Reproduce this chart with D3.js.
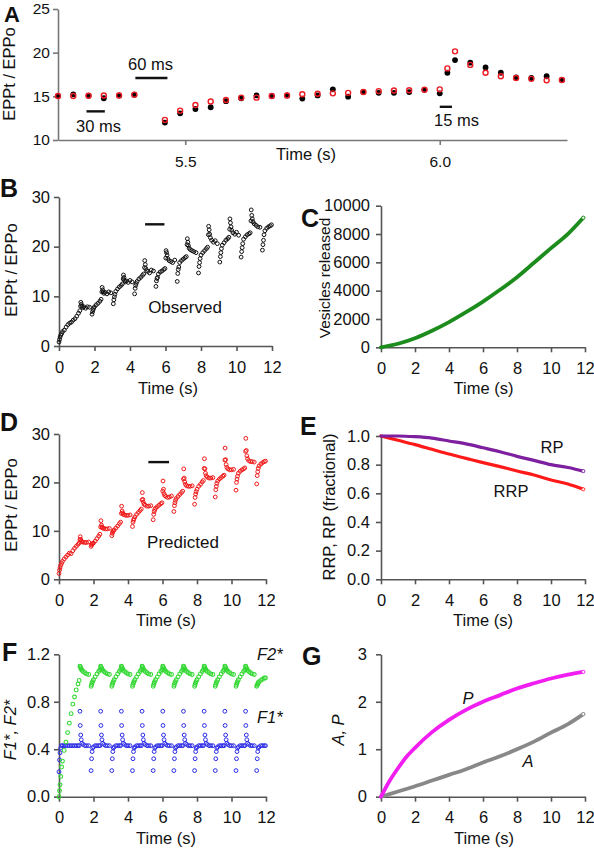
<!DOCTYPE html>
<html><head><meta charset="utf-8">
<script src="https://cdn.jsdelivr.net/npm/d3@7"></script>
<style>
body{margin:0;background:#fff;}
svg{display:block;font-family:"Liberation Sans",Arial,Helvetica,sans-serif;}
</style></head><body>
<svg id="fig" width="594" height="852"></svg>
<script>
// ---------- Panel A data ----------
const timesA = [5.25,5.28,5.31,5.34,5.37,5.40,5.46,5.49,5.52,5.55,5.58,5.61,5.64,5.67,5.70,5.73,5.76,5.79,5.82,5.85,5.88,5.91,5.94,5.97,6.00,6.015,6.03,6.06,6.09,6.12,6.15,6.18,6.21,6.24];
const obsA  = [15.04,15.23,15.07,14.78,15.1,15.19,12.0,13.06,13.55,13.75,14.45,14.78,15.1,15.04,15.1,14.74,15.1,15.8,14.96,15.5,15.4,15.4,15.49,15.75,15.34,17.7,19.15,18.85,18.3,17.7,17.17,17.1,17.3,16.87];
const predA = [15.04,15.04,15.07,15.1,15.1,15.19,12.3,13.36,14.0,14.4,14.58,14.85,14.85,15.04,15.1,15.23,15.3,15.34,15.4,15.5,15.6,15.67,15.7,15.75,15.8,18.2,20.15,18.6,17.7,17.3,17.1,17.0,16.83,16.87];
const ticksAx = [5.5, 6.0];
const ticksAy = [10, 15, 20, 25];

// ---------- Stimulus times shared by B, D, F ----------
const stimT = [0,0.03,0.06,0.1,0.15,0.2,0.3,0.4,0.5,0.6,0.7,0.8,0.9,1.0,1.1,1.17,
1.215,1.23,1.26,1.29,1.33,1.4,1.5,1.6,1.72,1.86,1.89,1.92,1.95,2.0,2.1,2.2,2.3,2.37,
2.415,2.43,2.46,2.49,2.53,2.6,2.7,2.8,2.92,3.06,3.09,3.12,3.15,3.2,3.3,3.4,3.5,3.57,
3.615,3.63,3.66,3.69,3.73,3.8,3.9,4.0,4.12,4.26,4.29,4.32,4.35,4.4,4.5,4.6,4.7,4.77,
4.815,4.83,4.86,4.89,4.93,5.0,5.1,5.2,5.32,5.46,5.49,5.52,5.55,5.6,5.7,5.8,5.9,5.97,
6.015,6.03,6.06,6.09,6.13,6.2,6.3,6.4,6.52,6.66,6.69,6.72,6.75,6.8,6.9,7.0,7.1,7.17,
7.215,7.23,7.26,7.29,7.33,7.4,7.5,7.6,7.72,7.86,7.89,7.92,7.95,8.0,8.1,8.2,8.3,8.37,
8.415,8.43,8.46,8.49,8.53,8.6,8.7,8.8,8.92,9.06,9.09,9.12,9.15,9.2,9.3,9.4,9.5,9.57,
9.615,9.63,9.66,9.69,9.73,9.8,9.9,10.0,10.12,10.26,10.29,10.32,10.35,10.4,10.5,10.6,10.7,10.77,
10.815,10.83,10.86,10.89,10.93,11.0,11.1,11.2,11.32,11.46,11.49,11.52,11.55,11.6,11.7,11.8,11.9,11.97];

// B: observed EPPt/EPPo
const observed = [0.8,1.3,1.8,2.2,2.5,2.9,3.2,3.8,4.3,4.6,4.8,5.2,5.5,6.0,6.6,7.1,
8.0,8.8,8.4,8.0,7.7,7.9,7.6,7.9,7.8,6.4,6.9,7.3,7.6,7.9,8.3,8.6,9.0,9.4,
10.9,11.8,11.3,10.9,10.6,10.8,10.5,10.9,10.7,8.5,9.3,9.9,10.4,11.0,11.5,11.9,12.2,12.5,
13.5,14.3,13.8,13.2,12.9,13.1,12.8,13.2,12.9,10.5,11.6,12.2,12.6,13.0,13.5,13.8,14.2,14.5,
15.8,17.2,16.4,15.6,15.2,15.0,14.7,15.3,15.1,12.0,13.1,13.6,13.8,14.5,14.9,15.1,15.4,15.6,
17.7,19.2,18.8,18.3,17.6,17.2,17.0,16.8,17.3,13.0,14.6,15.4,15.9,16.8,17.2,17.5,17.8,18.0,
20.4,21.6,20.9,20.2,19.7,19.4,19.2,19.0,18.8,14.7,16.0,16.8,17.6,18.3,18.8,19.2,19.6,19.9,
22.4,24.1,23.4,22.5,21.8,21.3,20.9,21.2,20.6,16.9,18.0,18.8,19.6,20.3,20.8,21.3,21.6,21.9,
23.5,25.6,24.8,24.0,23.3,22.8,22.5,22.9,22.3,17.9,19.0,19.8,20.6,21.5,22.0,22.4,22.6,22.8,
25.2,27.4,26.3,25.6,25.0,24.6,24.3,24.0,23.9,19.3,20.4,21.3,22.4,23.2,23.7,24.0,24.2,24.4];

// D: predicted EPPt/EPPo
const predicted = [1.2,1.9,2.4,2.9,3.3,3.7,4.2,4.6,5.0,5.4,5.3,5.9,6.4,6.8,7.2,7.5,
8.2,8.8,8.2,7.9,7.75,7.65,7.6,7.6,7.7,6.8,7.1,7.25,7.4,7.5,7.9,8.4,8.9,9.3,
10.8,12.1,11.2,10.8,10.6,10.5,10.4,10.4,10.5,9.0,9.5,9.8,10.0,10.2,10.6,11.0,11.5,11.8,
13.6,15.1,14.1,13.7,13.4,13.3,13.2,13.2,13.3,10.9,11.8,12.2,12.5,12.9,13.4,13.8,14.2,14.5,
16.4,17.9,16.5,15.9,15.5,15.3,15.1,15.1,15.2,12.3,13.4,14.0,14.4,14.7,15.0,15.3,15.6,15.8,
18.2,20.3,18.6,17.7,17.3,17.1,16.9,17.0,17.2,14.0,15.2,15.8,16.3,16.7,17.1,17.5,17.9,18.2,
20.7,22.8,20.9,20.1,19.6,19.3,19.2,19.2,19.3,15.5,16.9,17.6,18.1,18.6,19.2,19.6,20.1,20.4,
22.9,24.9,22.8,21.9,21.4,21.1,20.9,20.9,21.0,17.0,18.5,19.2,19.8,20.3,20.7,21.0,21.3,21.5,
24.6,27.1,24.7,23.7,23.1,22.8,22.6,22.6,22.7,18.4,20.0,20.7,21.3,21.9,22.3,22.6,22.8,23.0,
26.4,29.1,26.6,25.5,24.9,24.5,24.3,24.3,24.2,19.7,21.4,22.2,22.9,23.4,23.8,24.1,24.3,24.4];

// F: facilitation factors
const F1star = [0.21,0.31,0.37,0.41,0.43,0.43,0.43,0.43,0.43,0.43,0.43,0.43,0.43,0.43,0.43,0.43,
0.72,0.60,0.52,0.48,0.45,0.44,0.43,0.43,0.43,0.22,0.32,0.38,0.41,0.42,0.43,0.43,0.43,0.43,
0.72,0.60,0.52,0.48,0.45,0.44,0.43,0.43,0.43,0.22,0.32,0.38,0.41,0.42,0.43,0.43,0.43,0.43,
0.72,0.60,0.52,0.48,0.45,0.44,0.43,0.43,0.43,0.22,0.32,0.38,0.41,0.42,0.43,0.43,0.43,0.43,
0.72,0.60,0.52,0.48,0.45,0.44,0.43,0.43,0.43,0.22,0.32,0.38,0.41,0.42,0.43,0.43,0.43,0.43,
0.72,0.60,0.52,0.48,0.45,0.44,0.43,0.43,0.43,0.22,0.32,0.38,0.41,0.42,0.43,0.43,0.43,0.43,
0.72,0.60,0.52,0.48,0.45,0.44,0.43,0.43,0.43,0.22,0.32,0.38,0.41,0.42,0.43,0.43,0.43,0.43,
0.72,0.60,0.52,0.48,0.45,0.44,0.43,0.43,0.43,0.22,0.32,0.38,0.41,0.42,0.43,0.43,0.43,0.43,
0.72,0.60,0.52,0.48,0.45,0.44,0.43,0.43,0.43,0.22,0.32,0.38,0.41,0.42,0.43,0.43,0.43,0.43,
0.72,0.60,0.52,0.48,0.45,0.44,0.43,0.43,0.43,0.22,0.32,0.38,0.41,0.42,0.43,0.43,0.43,0.43];
const F2star = [0,0.05,0.1,0.17,0.25,0.3,0.39,0.46,0.54,0.62,0.7,0.78,0.84,0.9,0.95,0.98,
1.10,1.095,1.085,1.075,1.065,1.055,1.045,1.035,1.03,0.93,0.945,0.96,0.97,0.985,1.01,1.035,1.055,1.07,
1.10,1.095,1.085,1.075,1.065,1.055,1.045,1.035,1.03,0.93,0.945,0.96,0.97,0.985,1.01,1.035,1.055,1.07,
1.10,1.095,1.085,1.075,1.065,1.055,1.045,1.035,1.03,0.93,0.945,0.96,0.97,0.985,1.01,1.035,1.055,1.07,
1.10,1.095,1.085,1.075,1.065,1.055,1.045,1.035,1.03,0.93,0.945,0.96,0.97,0.985,1.01,1.035,1.055,1.07,
1.10,1.095,1.085,1.075,1.065,1.055,1.045,1.035,1.03,0.93,0.945,0.96,0.97,0.985,1.01,1.035,1.055,1.07,
1.10,1.095,1.085,1.075,1.065,1.055,1.045,1.035,1.03,0.93,0.945,0.96,0.97,0.985,1.01,1.035,1.055,1.07,
1.10,1.095,1.085,1.075,1.065,1.055,1.045,1.035,1.03,0.93,0.945,0.96,0.97,0.985,1.01,1.035,1.055,1.07,
1.10,1.095,1.085,1.075,1.065,1.055,1.045,1.035,1.03,0.93,0.945,0.96,0.97,0.985,1.01,1.035,1.055,1.07,
1.10,1.095,1.085,1.075,1.065,1.055,1.045,1.035,1.03,0.93,0.94,0.95,0.96,0.97,0.98,0.99,1.0,1.0];

// C: vesicles released
const tC = [0,1,2,3,4,5,6,7,8,9,10,11,11.9];
const vesicles = [0,250,640,1170,1780,2480,3230,4060,4950,5970,7000,8010,9150];

// E: pool sizes
const tE = [0,1,2,3,4,5,6,7,8,9,10,11,11.9];
const RP  = [1.0,1.0,0.995,0.985,0.965,0.945,0.918,0.89,0.858,0.83,0.80,0.78,0.755];
const RRP = [1.0,0.97,0.94,0.907,0.874,0.844,0.814,0.786,0.756,0.728,0.693,0.665,0.628];

// G: A and P
const tP = [0,0.5,1,1.5,2,3,4,5,6,7,8,9,10,11,11.9];
const Pval = [0,0.33,0.6,0.84,1.03,1.36,1.62,1.83,2.0,2.14,2.28,2.39,2.49,2.57,2.63];
const tA = [0,1,2,3,4,5,6,7,8,9,10,11,11.9];
const Aval = [0,0.11,0.22,0.34,0.46,0.58,0.72,0.85,1.0,1.16,1.35,1.53,1.74];

const timeTicks = [0,2,4,6,8,10,12];

// ---------- drawing ----------
const svg = d3.select("#fig");
const FS = 16.5;
const FONT = '"Liberation Sans",Arial,Helvetica,sans-serif';

function drawAxes(x, y, o) {
  const col = o.col || "#555";
  const fs = o.fs || FS;
  const g = svg.append("g");
  const ax = g.append("g").attr("transform", `translate(0,${y.range()[0]})`)
    .call(d3.axisBottom(x).tickValues(o.xTicks).tickFormat(o.xFmt).tickSize(5).tickSizeOuter(0).tickPadding(o.xPad ?? 10));
  const ay = g.append("g").attr("transform", `translate(${x.range()[0]},0)`)
    .call(d3.axisLeft(y).tickValues(o.yTicks).tickFormat(o.yFmt).tickSize(5).tickSizeOuter(0).tickPadding(o.yPad ?? 4));
  [ax, ay].forEach(a => {
    a.attr("font-size", null).attr("font-family", null);
    a.select(".domain").attr("stroke", col).attr("stroke-width", 1.6);
    a.selectAll(".tick line").attr("stroke", col).attr("stroke-width", 1.6);
    a.selectAll(".tick text").attr("fill", "#111").style("font-size", fs + "px").style("font-family", FONT);
  });
}
function text(t, x, y, opt = {}) {
  const el = svg.append("text").attr("x", x).attr("y", y).text(t)
    .attr("text-anchor", opt.anchor || "middle")
    .style("font-size", (opt.size || FS) + "px").style("font-family", FONT)
    .attr("fill", "#111");
  if (opt.italic) el.style("font-style", "italic");
  if (opt.bold) el.style("font-weight", "bold");
  return el;
}
function yLabel(t, cx, cy, opt = {}) {
  svg.append("text").attr("transform", `translate(${cx},${cy}) rotate(-90)`)
    .attr("text-anchor", "middle").attr("dominant-baseline", "central")
    .style("font-size", (opt.size || FS) + "px").style("font-family", FONT)
    .style("font-style", opt.italic ? "italic" : "normal")
    .attr("fill", "#111").text(t);
}
function letter(t, x, y, size = 25) { text(t, x, y, {anchor: "start", bold: true, size}); }
function bar(x, y, t0, t1, v) {
  svg.append("line").attr("x1", x(t0)).attr("x2", x(t1)).attr("y1", y(v)).attr("y2", y(v))
    .attr("stroke", "#111").attr("stroke-width", 2.4);
}
function scatter(x, y, ts, vs, color, r = 1.8, sw = 1) {
  svg.append("g").selectAll("circle").data(ts.map((t, i) => [t, vs[i]])).join("circle")
    .attr("cx", d => x(d[0])).attr("cy", d => y(d[1])).attr("r", r)
    .attr("fill", "none").attr("stroke", color).attr("stroke-width", sw);
}
function curve(x, y, ts, vs, color, w) {
  const pts = ts.map((t, i) => [t, vs[i]]);
  svg.append("path").datum(pts)
    .attr("d", d3.line().x(d => x(d[0])).y(d => y(d[1])).curve(d3.curveMonotoneX))
    .attr("fill", "none").attr("stroke", color).attr("stroke-width", w).attr("stroke-linecap", "round");
  const last = pts[pts.length - 1];
  svg.append("circle").attr("cx", x(last[0])).attr("cy", y(last[1])).attr("r", 1.6)
    .attr("fill", "#fff").attr("stroke", color).attr("stroke-width", 0.8);
}
const fmtInt = d3.format("d"), fmt1 = d3.format(".1f");

// ===== Panel A =====
{
  const x = d3.scaleLinear([5.25, 6.25], [58, 567]);
  const y = d3.scaleLinear([10, 25], [140, 9]);
  drawAxes(x, y, {xTicks: ticksAx, yTicks: ticksAy, xFmt: fmt1, yFmt: fmtInt, col: "#777", xPad: 11, yPad: 3, fs: 15.5});
  svg.append("g").selectAll("circle").data(timesA.map((t, i) => [t, obsA[i]])).join("circle")
    .attr("cx", d => x(d[0])).attr("cy", d => y(d[1])).attr("r", 2.9).attr("fill", "#000");
  scatter(x, y, timesA, predA, "#ee1c25", 2.5, 1.4);
  bar(x, y, 5.306, 5.342, 13.28);
  bar(x, y, 5.402, 5.465, 17.1);
  bar(x, y, 6.0, 6.024, 13.8);
  text("30 ms", 98.5, 131.5);
  text("60 ms", 150.5, 70);
  text("15 ms", 456.5, 126);
  text("Time (s)", 306, 160);
  yLabel("EPPt / EPPo", 9, 74);
  letter("A", 4, 22, 22);
}

// ===== Panel B =====
{
  const x = d3.scaleLinear([0, 12], [59, 272]);
  const y = d3.scaleLinear([0, 30], [346, 197]);
  drawAxes(x, y, {xTicks: timeTicks, yTicks: [0,10,20,30], xFmt: fmtInt, yFmt: fmtInt});
  scatter(x, y, stimT, observed, "#111", 1.9, 1);
  bar(x, y, 4.85, 5.94, 24.5);
  text("Observed", 185, 313, {size: 17});
  text("Time (s)", 168, 394);
  yLabel("EPPt / EPPo", 11, 270);
  letter("B", 0, 197);
}

// ===== Panel C =====
{
  const x = d3.scaleLinear([0, 12], [381, 585]);
  const y = d3.scaleLinear([0, 10000], [347.3, 205.7]);
  drawAxes(x, y, {xTicks: timeTicks, yTicks: [0,2000,4000,6000,8000,10000], xFmt: fmtInt, yFmt: fmtInt, yPad: 6});
  curve(x, y, tC, vesicles, "#1c8c1c", 3.8);
  text("Time (s)", 483.5, 394);
  yLabel("Vesicles released", 324, 278, {size: 15.5});
  letter("C", 301, 227);
}

// ===== Panel D =====
{
  const x = d3.scaleLinear([0, 12], [59, 266]);
  const y = d3.scaleLinear([0, 30], [579.3, 434]);
  drawAxes(x, y, {xTicks: timeTicks, yTicks: [0,10,20,30], xFmt: fmtInt, yFmt: fmtInt});
  scatter(x, y, stimT, predicted, "#f01818", 1.9, 1);
  bar(x, y, 5.18, 6.38, 24.2);
  text("Predicted", 183, 548, {size: 17});
  text("Time (s)", 166, 626);
  yLabel("EPPt / EPPo", 11, 505);
  letter("D", 0, 431);
}

// ===== Panel E =====
{
  const x = d3.scaleLinear([0, 12], [381, 585]);
  const y = d3.scaleLinear([0, 1], [579.3, 436]);
  drawAxes(x, y, {xTicks: timeTicks, yTicks: [0,0.2,0.4,0.6,0.8,1.0], xFmt: fmtInt, yFmt: fmt1, yPad: 6});
  curve(x, y, tE, RRP, "#ff1a1a", 3.2);
  curve(x, y, tE, RP, "#7d1f9e", 3.2);
  text("RP", 552, 453);
  text("RRP", 511, 497);
  text("Time (s)", 483, 626);
  yLabel("RRP, RP (fractional)", 329, 507);
  letter("E", 300, 435);
}

// ===== Panel F =====
{
  const x = d3.scaleLinear([0, 12], [59, 266]);
  const y = d3.scaleLinear([0, 1.2], [796.7, 654.3]);
  drawAxes(x, y, {xTicks: timeTicks, yTicks: [0,0.4,0.8,1.2], xFmt: fmtInt, yFmt: fmt1});
  scatter(x, y, stimT, F1star, "#2a2ae8", 1.9, 1);
  scatter(x, y, stimT, F2star, "#36d836", 1.9, 1.1);
  text("F2*", 257, 660, {anchor: "start", italic: true});
  text("F1*", 257, 723, {anchor: "start", italic: true});
  text("Time (s)", 166, 844);
  yLabel("F1*, F2*", 10, 730, {italic: true});
  letter("F", 2, 661);
}

// ===== Panel G =====
{
  const x = d3.scaleLinear([0, 12], [381, 585]);
  const y = d3.scaleLinear([0, 3], [796.7, 654.3]);
  drawAxes(x, y, {xTicks: timeTicks, yTicks: [0,1,2,3], xFmt: fmtInt, yFmt: fmtInt, yPad: 9});
  curve(x, y, tA, Aval, "#888888", 3.8);
  curve(x, y, tP, Pval, "#f01ef0", 3.8);
  text("P", 468, 704, {italic: true});
  text("A", 528, 767, {italic: true});
  text("Time (s)", 484, 844);
  yLabel("A, P", 338, 730, {italic: true});
  letter("G", 302, 665);
}
</script></body></html>
